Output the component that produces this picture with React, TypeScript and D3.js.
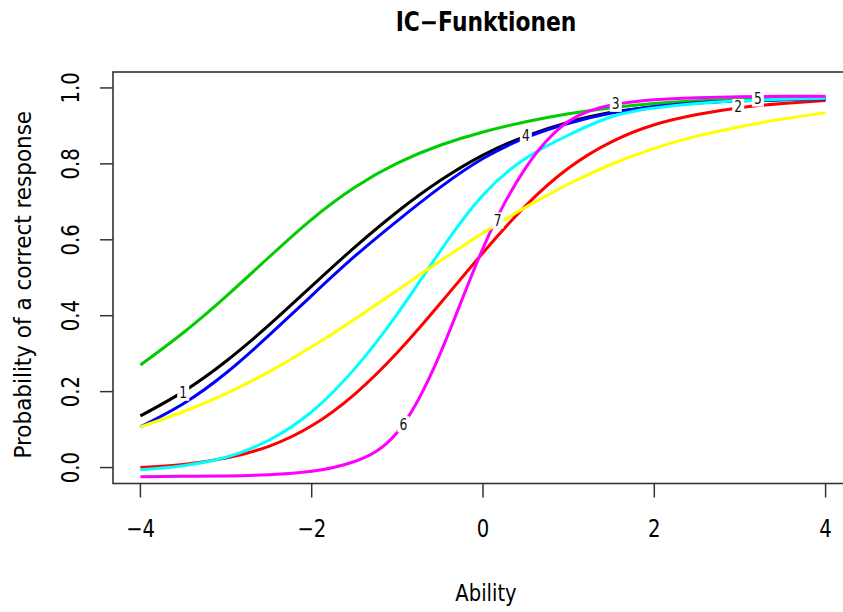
import React from 'react';
import * as d3 from 'd3';

// ability grid and the seven item curves
const theta = [-4, -3.5, -3, -2.5, -2, -1.5, -1, -0.5, 0, 0.5, 1, 1.5, 2, 2.5, 3, 3.5, 4];

const item1 = [0.136, 0.2, 0.28, 0.375, 0.478, 0.58, 0.674, 0.756, 0.823, 0.873, 0.91, 0.936, 0.95, 0.96, 0.966, 0.969, 0.972];
const item2 = [0.0, 0.008, 0.025, 0.056, 0.11, 0.193, 0.303, 0.432, 0.566, 0.69, 0.789, 0.858, 0.903, 0.93, 0.948, 0.959, 0.967];
const item3 = [0.27, 0.355, 0.451, 0.554, 0.654, 0.738, 0.802, 0.849, 0.884, 0.911, 0.932, 0.948, 0.959, 0.966, 0.97, 0.973, 0.975];
const item4 = [0.107, 0.168, 0.249, 0.348, 0.453, 0.556, 0.65, 0.738, 0.814, 0.869, 0.907, 0.934, 0.951, 0.961, 0.966, 0.969, 0.971];
const item5 = [-0.006, 0.005, 0.027, 0.072, 0.147, 0.26, 0.405, 0.57, 0.718, 0.815, 0.876, 0.924, 0.947, 0.959, 0.966, 0.97, 0.973];
const item6 = [-0.024, -0.023, -0.022, -0.019, -0.01, 0.016, 0.093, 0.3, 0.578, 0.79, 0.912, 0.955, 0.969, 0.974, 0.977, 0.978, 0.978];
const item7 = [0.107, 0.147, 0.195, 0.252, 0.318, 0.391, 0.467, 0.544, 0.618, 0.686, 0.747, 0.799, 0.841, 0.873, 0.898, 0.918, 0.935];

const items = [item1, item2, item3, item4, item5, item6, item7];
const itemColors = ['#000000', '#FF0000', '#00CD00', '#0000FF', '#00FFFF', '#FF00FF', '#FFFF00'];

// where each curve number sits
const labelNames = ['1', '2', '3', '4', '5', '6', '7'];
const labelX = [-3.5, 2.98, 1.55, 0.5, 3.21, -0.93, 0.17];
const labelY = [0.197, 0.95, 0.958, 0.875, 0.972, 0.114, 0.651];

const xTicks = [-4, -2, 0, 2, 4];
const yTicks = [0, 0.2, 0.4, 0.6, 0.8, 1.0];

const W = 843;
const H = 612;
const FONT = '"DejaVu Sans", sans-serif';
const NARROW = 0.82; // R's device font is narrower than DejaVu

export default function App() {
  // plot region (R pads 4% each side; right edge falls off the canvas)
  const box = { left: 113, right: 853, top: 72, bottom: 483.5 };
  const x = d3.scaleLinear().domain([-4.32, 4.32]).range([box.left, box.right]);
  const y = d3.scaleLinear().domain([-0.042, 1.042]).range([box.bottom, box.top]);

  const line = d3
    .line<number>()
    .x((_, i) => x(theta[i]))
    .y((d) => y(d))
    .curve(d3.curveNatural);

  const fmtY = (v: number) => v.toFixed(1);
  const fmtX = (v: number) => (v < 0 ? `\u2212${Math.abs(v)}` : `${v}`);
  const midX = (box.left + box.right) / 2;
  const midY = (box.top + box.bottom) / 2;

  return (
    <div style={{ position: 'absolute', left: 0, top: 0 }}>
      <svg width={W} height={H} style={{ display: 'block', background: '#fff', overflow: 'hidden' }} fontFamily={FONT}>
        {/* curves */}
        {items.map((vals, i) => (
          <path key={i} d={line(vals) || ''} fill="none" stroke={itemColors[i]} strokeWidth={3} strokeLinejoin="round" />
        ))}

        {/* curve numbers on white patches */}
        {labelNames.map((t, i) => (
          <g key={t} transform={`translate(${x(labelX[i])},${y(labelY[i])})`}>
            <rect x={-6} y={-8} width={12} height={16} fill="#fff" />
            <text textAnchor="middle" dy="0.36em" fontSize={15} fill="#111" transform={`scale(${NARROW},1)`}>
              {t}
            </text>
          </g>
        ))}

        {/* box */}
        <rect
          x={box.left}
          y={box.top}
          width={box.right - box.left}
          height={box.bottom - box.top}
          fill="none"
          stroke="#333"
          strokeWidth={1.6}
        />

        {/* x axis */}
        <g>
          {xTicks.map((t) => (
            <g key={t} transform={`translate(${x(t)},0)`}>
              <line y1={box.bottom} y2={box.bottom + 14} stroke="#333" strokeWidth={1.5} />
              <text transform={`translate(0,537) scale(${NARROW},1)`} textAnchor="middle" fontSize={24} fill="#000">
                {fmtX(t)}
              </text>
            </g>
          ))}
        </g>

        {/* y axis */}
        <g>
          {yTicks.map((t) => (
            <g key={t} transform={`translate(0,${y(t)})`}>
              <line x1={box.left} x2={box.left - 13} stroke="#333" strokeWidth={1.5} />
              <text transform={`translate(79,0) rotate(-90) scale(${NARROW},1)`} textAnchor="middle" fontSize={24} fill="#000">
                {fmtY(t)}
              </text>
            </g>
          ))}
        </g>

        {/* titles */}
        <text transform="translate(486,31) scale(0.84,1)" textAnchor="middle" fontSize={26} fontWeight="bold" fill="#000">
          IC{'\u2212'}Funktionen
        </text>
        <text transform={`translate(${midX + 3},601) scale(0.85,1)`} textAnchor="middle" fontSize={23} fill="#000">
          Ability
        </text>
        <text transform={`translate(31,${midY + 7}) rotate(-90) scale(0.935,1)`} textAnchor="middle" fontSize={23} fill="#000">
          Probability of a correct response
        </text>
      </svg>
    </div>
  );
}
